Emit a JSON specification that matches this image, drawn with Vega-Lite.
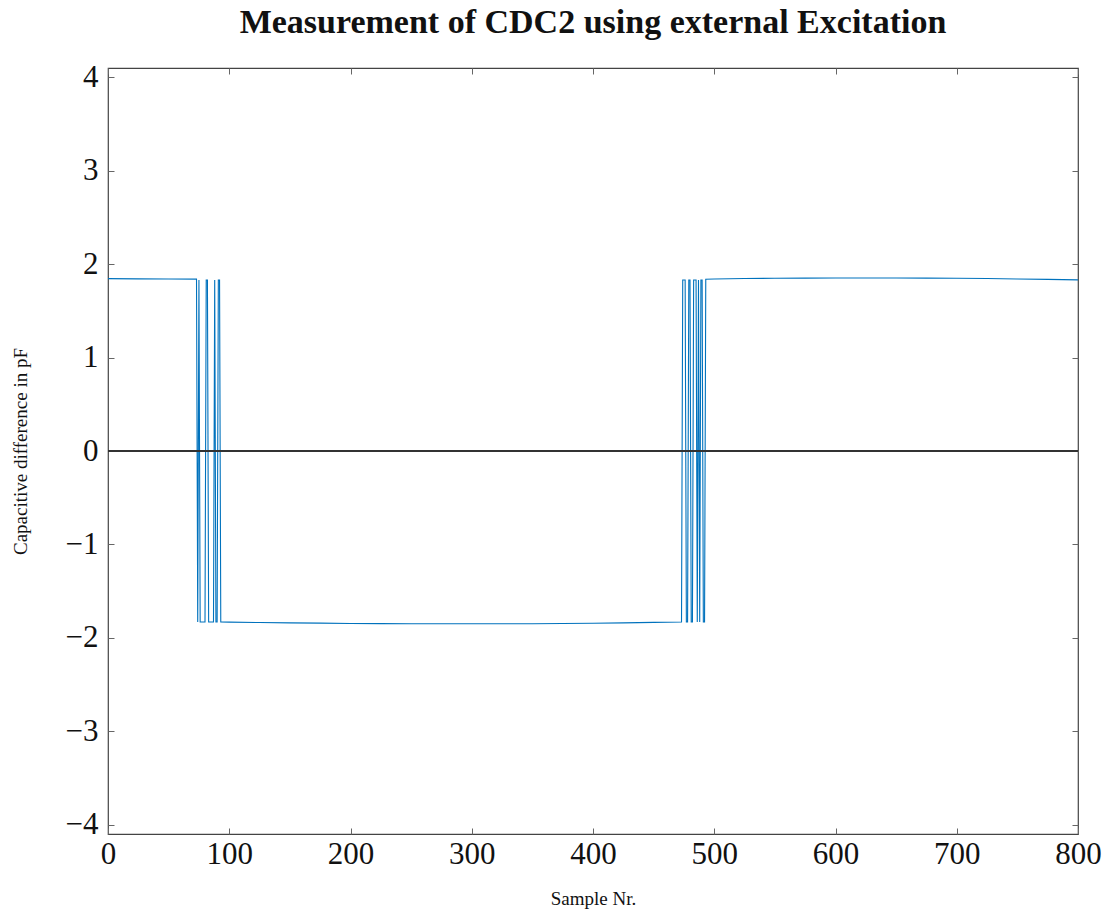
{
  "$schema": "https://vega.github.io/schema/vega-lite/v6.json",
  "width": 970,
  "height": 766,
  "autosize": {"type": "none"},
  "padding": {"left": 108, "top": 68, "right": 30, "bottom": 78},
  "background": "white",
  "title": {
    "text": "Measurement of CDC2 using external Excitation",
    "font": "Liberation Serif",
    "fontSize": 34,
    "fontWeight": "bold",
    "color": "#111",
    "anchor": "middle",
    "offset": 21
  },
  "config": {
    "view": {"stroke": "#444", "strokeWidth": 1.2},
    "axis": {
      "labelFont": "Liberation Serif",
      "titleFont": "Liberation Serif",
      "labelColor": "#111",
      "titleColor": "#111",
      "tickColor": "#666",
      "grid": false,
      "domain": false,
      "labelFlush": false,
      "labelOverlap": false
    }
  },
  "data": {
    "values": [
      {"n": 0, "v": 1.845}, {"n": 25, "v": 1.843}, {"n": 50, "v": 1.842}, {"n": 73, "v": 1.84},
      {"n": 74, "v": -1.83}, {"n": 75, "v": 1.83}, {"n": 76, "v": -1.83}, {"n": 77, "v": -1.83},
      {"n": 78, "v": -1.83}, {"n": 79, "v": -1.83}, {"n": 80, "v": -1.83}, {"n": 81, "v": 1.83},
      {"n": 82, "v": 1.83}, {"n": 83, "v": -1.83}, {"n": 84, "v": -1.83}, {"n": 85, "v": -1.83},
      {"n": 86, "v": -1.83}, {"n": 87, "v": -1.83}, {"n": 88, "v": 1.83}, {"n": 89, "v": -1.83},
      {"n": 90, "v": -1.83}, {"n": 91, "v": 1.83}, {"n": 92, "v": 1.83}, {"n": 93, "v": -1.83},
      {"n": 100, "v": -1.832}, {"n": 125, "v": -1.836}, {"n": 150, "v": -1.84}, {"n": 175, "v": -1.843},
      {"n": 200, "v": -1.846}, {"n": 225, "v": -1.848}, {"n": 250, "v": -1.849}, {"n": 275, "v": -1.85},
      {"n": 300, "v": -1.85}, {"n": 325, "v": -1.85}, {"n": 350, "v": -1.849}, {"n": 375, "v": -1.847},
      {"n": 400, "v": -1.844}, {"n": 425, "v": -1.84}, {"n": 450, "v": -1.835}, {"n": 473, "v": -1.83},
      {"n": 474, "v": 1.83}, {"n": 475, "v": 1.83}, {"n": 476, "v": 1.83}, {"n": 477, "v": -1.83},
      {"n": 478, "v": -1.83}, {"n": 479, "v": 1.83}, {"n": 480, "v": 1.83}, {"n": 481, "v": -1.83},
      {"n": 482, "v": -1.83}, {"n": 483, "v": 1.83}, {"n": 484, "v": 1.83}, {"n": 485, "v": 1.83},
      {"n": 486, "v": -1.83}, {"n": 487, "v": 1.83}, {"n": 488, "v": -1.83}, {"n": 489, "v": 1.83},
      {"n": 490, "v": 1.83}, {"n": 491, "v": -1.83}, {"n": 492, "v": -1.83}, {"n": 493, "v": 1.838},
      {"n": 500, "v": 1.842}, {"n": 525, "v": 1.846}, {"n": 550, "v": 1.849}, {"n": 575, "v": 1.851},
      {"n": 600, "v": 1.852}, {"n": 625, "v": 1.852}, {"n": 650, "v": 1.852}, {"n": 675, "v": 1.851},
      {"n": 700, "v": 1.849}, {"n": 725, "v": 1.846}, {"n": 750, "v": 1.842}, {"n": 775, "v": 1.837},
      {"n": 800, "v": 1.832}
    ]
  },
  "layer": [
    {
      "mark": {"type": "line", "color": "#0072bd", "strokeWidth": 1.1, "clip": true},
      "encoding": {
        "x": {
          "field": "n", "type": "quantitative",
          "scale": {"domain": [0, 800], "nice": false, "zero": false},
          "axis": {
            "orient": "bottom", "values": [0, 100, 200, 300, 400, 500, 600, 700, 800],
            "offset": -6, "tickSize": 6, "labelFontSize": 31, "labelPadding": 5,
            "title": "Sample Nr.", "titleFontSize": 19, "titleFontWeight": "normal", "titlePadding": 20
          }
        },
        "y": {
          "field": "v", "type": "quantitative",
          "scale": {"domain": [-4.1, 4.1], "nice": false, "zero": false},
          "axis": {
            "orient": "left", "values": [-4, -3, -2, -1, 0, 1, 2, 3, 4],
            "offset": -6, "tickSize": 6, "labelFontSize": 31, "labelPadding": 10,
            "title": "Capacitive difference in pF", "titleFontSize": 19, "titleFontWeight": "normal", "titlePadding": 35
          }
        }
      }
    },
    {
      "mark": {"type": "line", "strokeOpacity": 0},
      "encoding": {
        "x": {
          "field": "n", "type": "quantitative",
          "axis": {"orient": "top", "values": [0, 100, 200, 300, 400, 500, 600, 700, 800], "offset": -6, "tickSize": 6, "labels": false, "title": null}
        },
        "y": {
          "field": "v", "type": "quantitative",
          "axis": {"orient": "right", "values": [-4, -3, -2, -1, 0, 1, 2, 3, 4], "offset": -6, "tickSize": 6, "labels": false, "title": null}
        }
      }
    },
    {
      "mark": {"type": "rule", "color": "#333", "strokeWidth": 1.3},
      "encoding": {"y": {"datum": 0, "type": "quantitative", "axis": null}}
    }
  ],
  "resolve": {"axis": {"x": "independent", "y": "independent"}}
}
